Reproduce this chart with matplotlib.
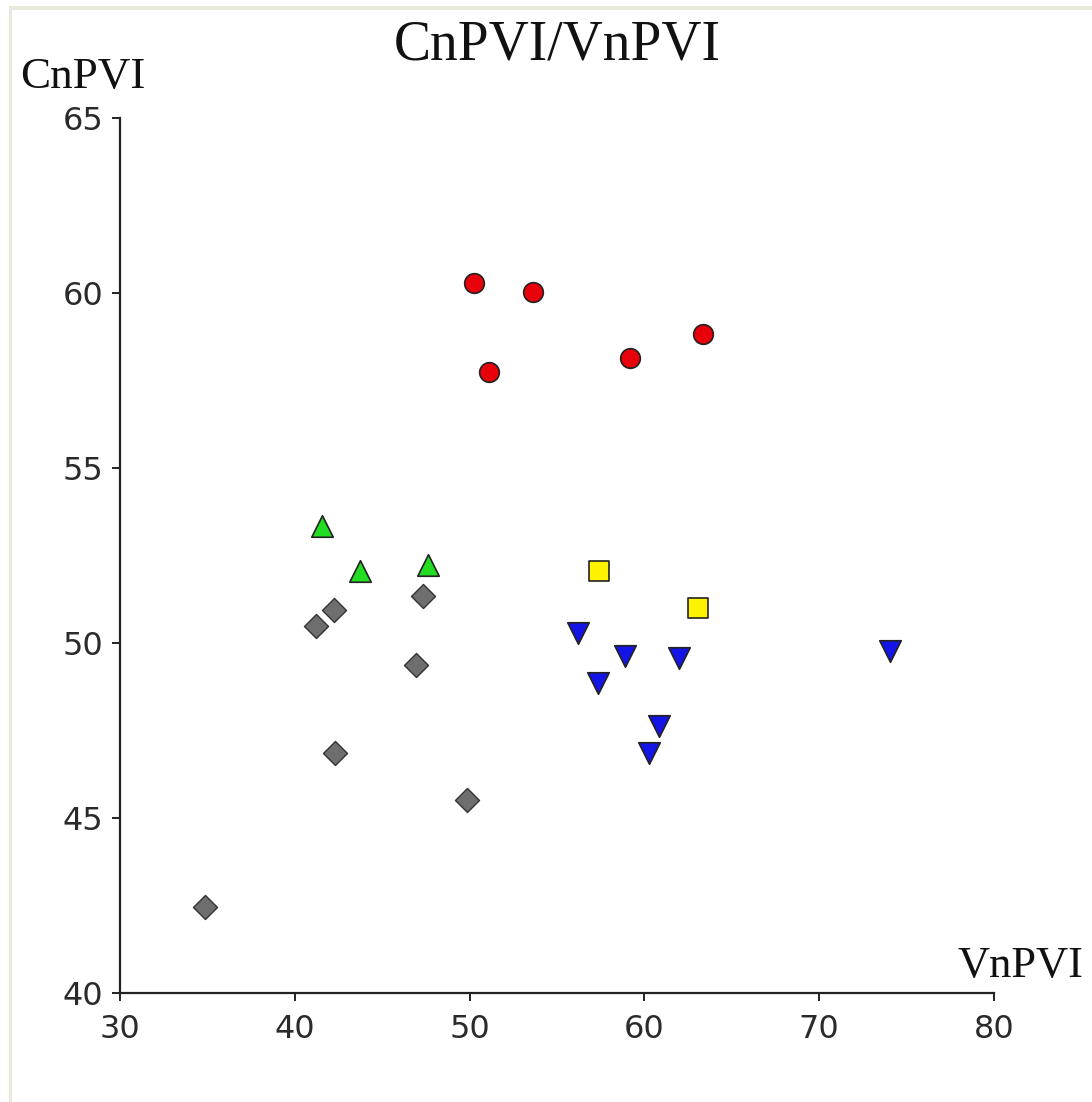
import matplotlib
matplotlib.use("Agg")
import matplotlib.pyplot as plt
from matplotlib.patches import Rectangle

# Scatter groups: VnPVI (x) and CnPVI (y)
red_x = [50.25, 53.63, 51.10, 59.18, 63.35]
red_y = [60.29, 60.03, 57.74, 58.14, 58.83]

green_x = [41.56, 43.73, 47.62]
green_y = [53.34, 52.06, 52.23]

grey_x = [41.21, 42.24, 47.33, 46.93, 42.30, 49.85, 34.86]
grey_y = [50.49, 50.94, 51.34, 49.37, 46.86, 45.51, 42.46]

yellow_x = [57.40, 63.07]
yellow_y = [52.06, 51.00]

blue_x = [56.20, 57.35, 58.90, 61.98, 60.84, 60.26, 74.05]
blue_y = [50.29, 48.86, 49.63, 49.57, 47.63, 46.86, 49.77]

x_ticks = [30, 40, 50, 60, 70, 80]
y_ticks = [40, 45, 50, 55, 60, 65]

W, H = 1092, 1102
fig = plt.figure(figsize=(W / 100, H / 100), dpi=100, facecolor="white")

# thin window-style frame at the top and left edges
fig.add_artist(Rectangle((9 / W, 1 - 10 / H), 1 - 9 / W, 4 / H,
                         transform=fig.transFigure, color="#e8e8dd", lw=0))
fig.add_artist(Rectangle((9 / W, 0), 3 / W, 1 - 6 / H,
                         transform=fig.transFigure, color="#e8e8dd", lw=0))

ax = fig.add_axes([120 / W, 1 - 993 / H, 874 / W, 875 / H])
ax.set_facecolor("white")

mk = dict(s=200, edgecolors="#222222", linewidths=1.2, zorder=3)
ax.scatter(red_x, red_y, marker="o", c="#e8000a", **mk)
ax.scatter(green_x, green_y, marker="^", c="#22dd22",
           **{**mk, "s": 240})
ax.scatter(grey_x, grey_y, marker="D", c="#6e6e6e", s=150,
           edgecolors="#333333", linewidths=1.0, zorder=3)
ax.scatter(yellow_x, yellow_y, marker="s", c="#fff200", **mk)
ax.scatter(blue_x, blue_y, marker="v", c="#1414e6",
           **{**mk, "s": 240})

ax.set_xlim(30, 80)
ax.set_ylim(40, 65)
ax.set_xticks(x_ticks)
ax.set_yticks(y_ticks)

for s in ("top", "right"):
    ax.spines[s].set_visible(False)
for s in ("left", "bottom"):
    ax.spines[s].set_color("#222222")
    ax.spines[s].set_linewidth(1.6)

ax.tick_params(axis="both", colors="#222222", width=1.4, length=6,
               labelsize=23, labelcolor="#2a2a2a")
ax.tick_params(axis="x", pad=9)
ax.tick_params(axis="y", pad=6)

serif = ["Liberation Serif", "DejaVu Serif"]
fig.text(557 / W, 1 - 46 / H, "CnPVI/VnPVI", ha="center", va="center",
         family=serif, fontsize=40, color="#111111")
fig.text(20 / W, 1 - 77 / H, "CnPVI", ha="left", va="center",
         family=serif, fontsize=32.5, color="#111111")
fig.text(1083 / W, 1 - 966 / H, "VnPVI", ha="right", va="center",
         family=serif, fontsize=32, color="#111111")

fig.savefig("out.png", dpi=100, facecolor="white")
